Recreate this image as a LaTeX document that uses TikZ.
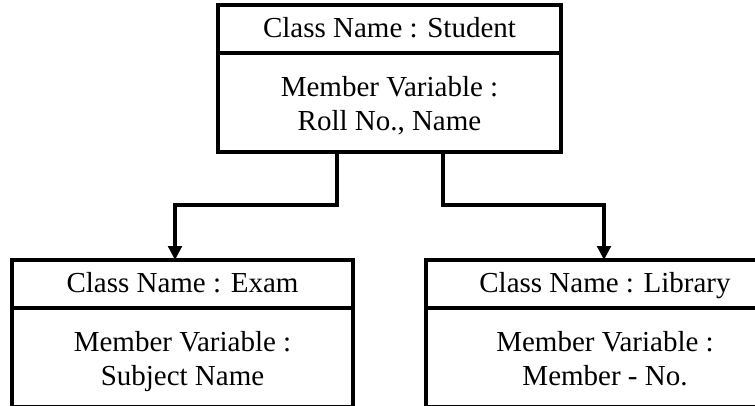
\documentclass[tikz,border=0pt]{standalone}
\usepackage{fontspec}
\setmainfont{Liberation Serif}
\usepackage{tikz}
\usetikzlibrary{arrows.meta,positioning}

\newcommand{\topgap}{\rule{0pt}{18pt}}

\begin{document}
\begin{tikzpicture}[
    title/.style={rectangle, draw, line width=2pt, outer sep=0pt, minimum width=6.86cm, minimum height=0.96cm, inner sep=0pt, text height=1.2em, text depth=0.22em, font=\fontsize{16.5}{19}\selectfont},
    members/.style={rectangle, draw, line width=2pt, outer sep=0pt, minimum width=6.86cm, minimum height=1.98cm, inner sep=0pt, align=center, font=\fontsize{16.5}{19}\selectfont},
    arrow/.style={-{Triangle[length=0.28cm, width=0.27cm]}, line width=2pt},
    node distance=0pt
]
    \clip (0,0) rectangle (15.1,8.1);

    % Base class
    \node[title] (stuname) at (7.79,7.52) {Class Name : Student};
    \node[members, below=of stuname] (stuvars) {\topgap Member Variable :\\Roll No., Name\strut};

    % Derived classes
    \node[title, minimum width=6.82cm] (examname) at (3.65,2.42) {Class Name : Exam};
    \node[members, minimum width=6.82cm, below=of examname] (examvars) {\topgap Member Variable :\\Subject Name\strut};

    \node[title, minimum width=7.16cm] (libname) at (12.1,2.42) {Class Name : Library};
    \node[members, minimum width=7.16cm, below=of libname] (libvars) {\topgap Member Variable :\\Member - No.\strut};

    % Arrows
    \draw[arrow] ([xshift=-1.05cm]stuvars.south) -- ++(0,-1.06) -| ([xshift=-0.15cm]examname.north);
    \draw[arrow] ([xshift=1.07cm]stuvars.south) -- ++(0,-1.06) -| ([xshift=-0.02cm]libname.north);
\end{tikzpicture}
\end{document}
